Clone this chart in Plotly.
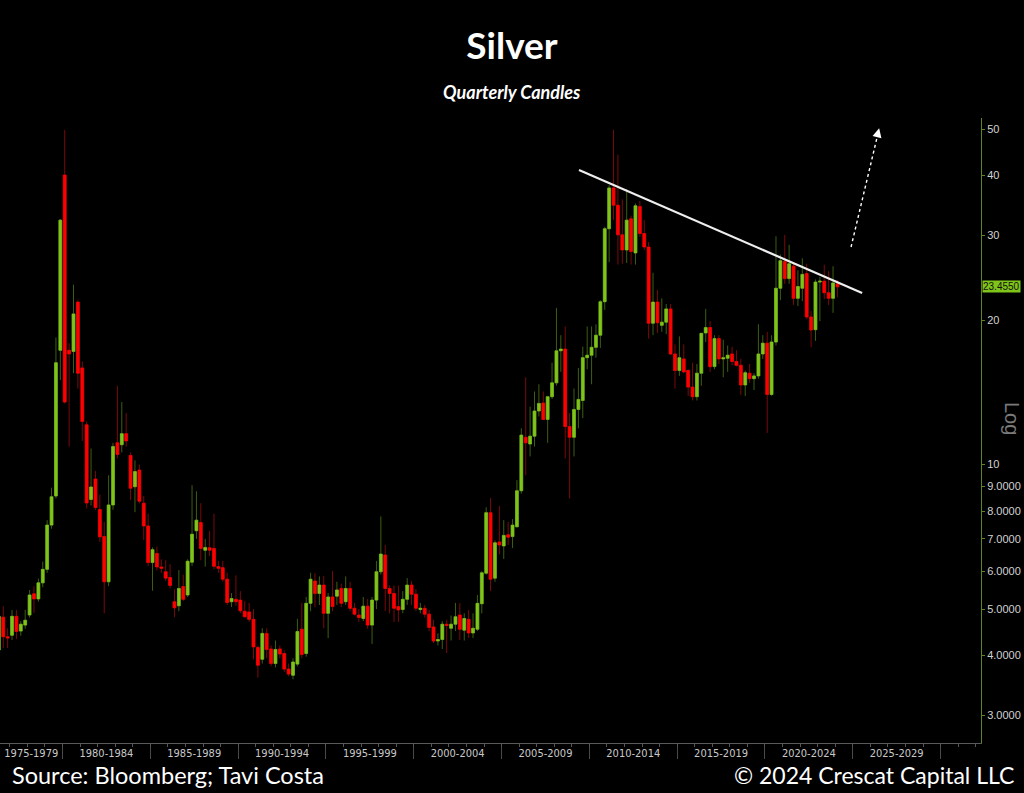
import math
import plotly.graph_objects as go

# ---------------- data (quarterly silver candles, USD/oz) ----------------
first_quarter = (1976, 2)

open_ = [
    4.11, 4.81, 4.38,                 # 1976 Q2-Q4
    4.41, 4.83, 4.50, 4.63,           # 1977
    4.86, 5.38, 5.25, 5.67,           # 1978
    6.05, 7.48, 8.60, 17.3,           # 1979
    40.1, 17.3, 17.2, 21.8,           # 1980
    15.9, 12.1, 8.46, 9.33,           # 1981
    8.06, 7.08, 5.70, 8.24,           # 1982
    11.1, 11.0, 11.6, 10.45,          # 1983
    8.99, 9.74, 8.31, 7.45,           # 1984
    6.25, 6.53, 6.12, 5.98,           # 1985
    5.82, 5.18, 5.08, 5.57,           # 1986
    5.35, 6.26, 7.28, 7.57,           # 1987
    6.63, 6.71, 6.69, 6.13,           # 1988
    6.10, 5.77, 5.18, 5.24,           # 1989
    5.22, 4.95, 4.93, 4.76,           # 1990
    4.16, 3.93, 4.45, 4.13,           # 1991
    3.85, 4.13, 4.04, 3.75,           # 1992
    3.64, 3.84, 4.54, 4.04,           # 1993
    5.14, 5.72, 5.39, 5.61,           # 1994
    4.90, 5.30, 5.32, 5.52,           # 1995
    5.18, 5.52, 5.02, 4.86,           # 1996
    4.78, 5.07, 4.63, 5.22,           # 1997
    5.98, 6.48, 5.52, 5.39,           # 1998
    5.06, 4.99, 5.24, 5.61,           # 1999
    5.37, 4.99, 5.02, 4.88,           # 2000
    4.59, 4.29, 4.32, 4.65,           # 2001
    4.56, 4.65, 4.86, 4.52,           # 2002
    4.76, 4.46, 4.54, 5.13,           # 2003
    5.94, 7.94, 5.80, 6.90,           # 2004
    6.77, 7.14, 7.08, 7.42,           # 2005
    8.82, 11.4, 11.04, 11.46,         # 2006
    12.93, 13.43, 12.42, 13.85,       # 2007
    14.8, 17.26, 17.4, 12.0,          # 2008
    11.4, 13.03, 13.6, 16.7,          # 2009
    16.9, 17.55, 18.6, 21.84,         # 2010
    31.0, 37.7, 34.7, 30.1,           # 2011
    28.0, 32.5, 27.6, 34.5,           # 2012
    30.3, 28.4, 19.7, 21.8,           # 2013
    19.5, 19.8, 21.1, 17.0,           # 2014
    15.7, 16.6, 15.7, 14.5,           # 2015
    13.85, 15.5, 18.8, 19.3,          # 2016
    16.0, 18.3, 16.6, 16.65,          # 2017
    17.0, 16.4, 16.1, 14.65,          # 2018
    15.5, 15.1, 15.3, 17.0,           # 2019
    17.9, 14.0, 18.0, 23.3,           # 2020
    26.5, 24.4, 25.9, 22.2,           # 2021
    23.3, 25.0, 20.3, 19.1,           # 2022
    24.0, 24.1, 22.8, 22.2,           # 2023
    23.8,                             # 2024 Q1
]

high = [
    4.95, 5.07, 4.56,
    4.98, 4.98, 4.72, 4.98,
    5.48, 5.58, 5.79, 6.28,
    7.66, 8.95, 18.4, 32.5,
    49.8, 17.9, 23.7, 22.0,
    16.4, 12.3, 10.8, 9.70,
    8.66, 7.60, 9.50, 11.1,
    14.6, 13.5, 12.8, 10.6,
    10.2, 10.0, 8.60, 7.90,
    6.72, 6.75, 6.35, 6.32,
    6.20, 5.50, 6.03, 5.90,
    6.35, 9.06, 8.80, 8.31,
    7.00, 7.27, 7.90, 6.30,
    6.30, 5.95, 5.40, 5.88,
    5.45, 5.20, 5.15, 5.00,
    4.20, 4.56, 4.56, 4.20,
    4.30, 4.20, 4.10, 3.85,
    3.95, 4.77, 5.15, 5.30,
    5.95, 5.94, 5.85, 5.86,
    5.40, 6.00, 5.70, 5.65,
    5.85, 5.70, 5.15, 5.00,
    5.30, 5.25, 5.30, 6.30,
    7.80, 6.80, 5.60, 5.60,
    5.60, 5.45, 5.80, 5.72,
    5.50, 5.15, 5.10, 4.98,
    4.75, 4.45, 4.72, 4.75,
    4.85, 5.15, 5.15, 4.90,
    4.98, 4.90, 5.35, 6.00,
    8.15, 8.52, 6.95, 8.20,
    7.66, 7.60, 7.70, 9.28,
    11.9, 15.2, 13.2, 14.2,
    14.7, 14.2, 13.9, 16.3,
    21.2, 18.6, 19.4, 12.8,
    14.4, 15.9, 17.6, 19.4,
    19.4, 19.6, 22.0, 31.3,
    38.2, 49.8, 44.2, 35.7,
    37.5, 33.0, 35.0, 35.4,
    32.3, 29.1, 25.1, 23.1,
    22.2, 21.6, 21.6, 17.8,
    18.5, 17.8, 15.8, 16.3,
    16.2, 18.8, 21.1, 19.9,
    18.6, 18.6, 18.2, 17.7,
    17.6, 17.3, 16.6, 15.7,
    16.2, 15.5, 19.6, 18.6,
    18.9, 18.6, 29.9, 27.4,
    30.1, 28.7, 26.4, 25.4,
    26.9, 26.2, 20.9, 24.3,
    24.6, 26.1, 25.3, 25.9,
    24.2,
]

low = [
    4.05, 4.15, 4.15,
    4.31, 4.33, 4.40, 4.55,
    4.80, 4.91, 5.18, 5.55,
    5.95, 7.35, 8.50, 15.0,
    13.4, 10.9, 15.5, 14.4,
    11.2, 8.10, 8.22, 8.04,
    6.90, 4.90, 5.58, 8.05,
    10.3, 10.6, 10.9, 8.44,
    7.96, 8.30, 6.96, 6.15,
    5.46, 6.02, 5.95, 5.72,
    5.52, 4.81, 4.95, 5.20,
    5.30, 6.15, 7.00, 6.32,
    6.13, 6.45, 6.05, 5.95,
    5.70, 5.10, 5.05, 5.08,
    4.90, 4.80, 4.70, 3.93,
    3.60, 3.85, 3.95, 3.80,
    3.78, 3.95, 3.70, 3.62,
    3.57, 3.80, 3.95, 3.98,
    4.95, 5.05, 5.10, 4.56,
    4.35, 4.95, 5.10, 5.05,
    5.10, 4.95, 4.85, 4.70,
    4.72, 4.55, 4.23, 5.00,
    5.90, 4.95, 4.90, 4.70,
    4.70, 4.90, 5.10, 5.10,
    4.95, 4.90, 4.80, 4.50,
    4.25, 4.20, 4.13, 4.05,
    4.30, 4.50, 4.31, 4.30,
    4.35, 4.35, 4.50, 4.90,
    5.90, 5.45, 5.70, 6.50,
    6.36, 6.80, 6.70, 7.40,
    8.70, 9.50, 10.4, 10.9,
    12.6, 12.5, 11.1, 13.7,
    14.6, 15.6, 10.3, 8.50,
    10.4, 11.9, 12.5, 15.8,
    14.7, 16.7, 17.5, 21.0,
    26.4, 32.3, 26.1, 26.2,
    26.3, 26.1, 26.1, 29.8,
    28.0, 18.3, 18.6, 18.8,
    18.9, 18.7, 16.9, 14.4,
    15.3, 15.5, 13.9, 13.6,
    13.6, 14.6, 18.0, 15.6,
    15.8, 16.2, 15.2, 15.6,
    16.1, 16.0, 13.97, 13.9,
    14.8, 14.3, 15.1, 16.6,
    11.64, 13.9, 17.7, 22.0,
    23.8, 23.8, 21.5, 21.4,
    21.9, 20.1, 17.56, 18.1,
    19.9, 22.1, 21.5, 20.7,
    22.3,
]

close = [
    4.83, 4.38, 4.35,
    4.83, 4.49, 4.65, 4.74,
    5.35, 5.25, 5.67, 6.05,
    7.48, 8.57, 16.3, 32.3,
    13.5, 17.0, 20.6, 15.5,
    12.3, 8.32, 8.98, 8.14,
    7.07, 5.70, 8.24, 10.9,
    10.5, 11.6, 11.2, 8.93,
    9.67, 8.39, 7.45, 6.25,
    6.65, 6.12, 6.08, 5.80,
    5.60, 5.03, 5.52, 5.24,
    6.29, 7.16, 7.66, 6.69,
    6.72, 6.63, 6.14, 6.08,
    5.77, 5.16, 5.26, 5.18,
    4.96, 4.82, 4.76, 4.17,
    3.82, 4.45, 4.12, 3.85,
    4.12, 4.03, 3.75, 3.66,
    3.88, 4.49, 4.02, 5.14,
    5.77, 5.39, 5.61, 4.90,
    5.30, 5.06, 5.48, 5.14,
    5.52, 5.02, 4.88, 4.80,
    5.07, 4.63, 5.22, 5.98,
    6.51, 5.52, 5.39, 5.02,
    4.98, 5.24, 5.61, 5.37,
    5.02, 5.02, 4.88, 4.58,
    4.29, 4.32, 4.65, 4.62,
    4.65, 4.82, 4.54, 4.78,
    4.46, 4.56, 5.14, 5.95,
    7.94, 5.77, 6.87, 6.80,
    7.12, 7.06, 7.48, 8.82,
    11.52, 11.1, 11.46, 12.93,
    13.41, 12.42, 13.85, 14.8,
    17.26, 17.4, 12.0, 11.4,
    13.03, 13.67, 16.7, 16.9,
    17.55, 18.6, 21.84, 31.0,
    37.7, 34.7, 30.1, 28.0,
    32.3, 27.8, 34.6, 30.3,
    28.4, 19.7, 21.8, 19.75,
    19.8, 21.1, 17.0, 15.7,
    16.7, 15.6, 14.5, 13.85,
    15.5, 18.77, 19.3, 15.99,
    18.3, 16.6, 16.7, 16.9,
    16.4, 16.1, 14.65, 15.54,
    15.1, 15.3, 17.0, 17.9,
    14.0, 18.0, 23.3, 26.6,
    24.4, 26.2, 22.2, 23.5,
    24.9, 20.3, 19.07, 24.0,
    24.1, 22.8, 22.2, 23.9,
    23.455,
]

last_price = 23.455

x_tick_labels = ["1975-1979", "1980-1984", "1985-1989", "1990-1994", "1995-1999",
                 "2000-2004", "2005-2009", "2010-2014", "2015-2019", "2020-2024",
                 "2025-2029"]
y_tick_values = [3, 4, 5, 6, 7, 8, 9, 10, 20, 30, 40, 50]
y_tick_labels = ["3.0000", "4.0000", "5.0000", "6.0000", "7.0000", "8.0000",
                 "9.0000", "10", "20", "30", "40", "50"]

# resistance trendline and projected arrow (annotation endpoints)
trend_x = [2009.41, 2025.53]
trend_y = [41.1, 22.77]
arrow_start = (2024.9, 28.4)
arrow_tip = (2026.5, 50.2)

# ---------------- build ----------------
n = len(open_)
quarters = []
yr, q = first_quarter
for _ in range(n):
    quarters.append((yr, q))
    q += 1
    if q > 4:
        q = 1
        yr += 1
xs = [y + (qq - 0.5) / 4.0 for (y, qq) in quarters]

body_hi = [max(o, c) for o, c in zip(open_, close)]
body_lo = [min(o, c) for o, c in zip(open_, close)]
wick_hi = [max(h, o, c) for h, o, c in zip(high, open_, close)]
wick_lo = [min(l, o, c) for l, o, c in zip(low, open_, close)]

GREEN = "#7fc41a"
RED = "#ff0000"
GREEN_WICK = "#3d5e12"
RED_WICK = "#7a0a0a"

X_MIN, X_MAX = 1976.44, 2032.3
Y_MIN, Y_MAX = 0.420, 1.722

fig = go.Figure()

# wicks
fig.add_trace(go.Candlestick(
    x=xs, open=open_, high=wick_hi, low=wick_lo, close=close,
    increasing=dict(line=dict(color=GREEN_WICK, width=1), fillcolor=GREEN_WICK),
    decreasing=dict(line=dict(color=RED_WICK, width=1), fillcolor=RED_WICK),
    whiskerwidth=0, hoverinfo="skip", showlegend=False))
# bodies
fig.add_trace(go.Candlestick(
    x=xs, open=open_, high=body_hi, low=body_lo, close=close,
    increasing=dict(line=dict(color=GREEN, width=0.5), fillcolor=GREEN),
    decreasing=dict(line=dict(color=RED, width=0.5), fillcolor=RED),
    whiskerwidth=0, hoverinfo="skip", showlegend=False))

# trendline
fig.add_trace(go.Scatter(x=trend_x, y=trend_y, mode="lines",
                         line=dict(color="#eeeeee", width=2.2),
                         hoverinfo="skip", showlegend=False))
# dotted projection
fig.add_trace(go.Scatter(x=[arrow_start[0], arrow_tip[0] - 0.08],
                         y=[arrow_start[1], arrow_tip[1] * 0.97], mode="lines",
                         line=dict(color="#ffffff", width=1.4, dash="dot"),
                         hoverinfo="skip", showlegend=False))
# invisible trace for yearly minor-tick axis
fig.add_trace(go.Scatter(x=[X_MIN, X_MAX], y=[10, 10], xaxis="x2", mode="lines",
                         line=dict(width=0), opacity=0, hoverinfo="skip",
                         showlegend=False))

bounds = list(range(1980, 2031, 5))
tick_pos = [(X_MIN + 1980) / 2.0] + [b + 2.5 for b in bounds[:-1]]

fig.update_layout(
    width=1024, height=793,
    paper_bgcolor="black", plot_bgcolor="black",
    margin=dict(l=0, r=43, t=118, b=50),
    boxgap=0.08,
    showlegend=False,
    title=dict(text="<b>Silver</b>", x=0.5, xref="container", xanchor="center",
               y=1 - 46 / 793, yref="container", yanchor="middle",
               font=dict(family="Lato, Open Sans, sans-serif", size=37, color="white")),
    xaxis=dict(range=[X_MIN, X_MAX], rangeslider=dict(visible=False),
               showgrid=False, zeroline=False, showline=True, linecolor="#5a5a5a",
               linewidth=1, tickmode="array", tickvals=tick_pos, ticktext=x_tick_labels,
               ticks="", tickfont=dict(family="Liberation Sans Narrow, DejaVu Sans Condensed, sans-serif",
                                        size=11, color="#c8c8c8"),
               minor=dict(tickmode="array", tickvals=bounds, ticks="outside",
                          ticklen=15, tickcolor="#4a4a4a", tickwidth=1),
               fixedrange=True),
    xaxis2=dict(range=[X_MIN, X_MAX], overlaying="x", anchor="y", side="bottom",
                showgrid=False, zeroline=False, showline=False,
                tickmode="linear", tick0=1976, dtick=1, ticks="outside", ticklen=3,
                tickcolor="#555555", showticklabels=False),
    yaxis=dict(type="log", range=[Y_MIN, Y_MAX], side="right", showgrid=False,
               zeroline=False, showline=True, linecolor="#5f8420", linewidth=1,
               ticks="outside", ticklen=3, tickcolor="#5f8420",
               tickmode="array", tickvals=y_tick_values, ticktext=y_tick_labels,
               tickfont=dict(family="Liberation Sans, Arial, sans-serif", size=11,
                             color="#d2d2d2")),
)

annotations = [
    dict(text="<b><i>Quarterly Candles</i></b>", xref="paper", yref="paper",
         x=512 / 981, y=(743 - 92) / 625, xanchor="center", yanchor="middle",
         showarrow=False, font=dict(family="Lato, sans-serif", size=18, color="white")),
    dict(text="Source: Bloomberg; Tavi Costa", xref="paper", yref="paper",
         x=10 / 981, y=(743 - 775) / 625, xanchor="left", yanchor="middle",
         showarrow=False, font=dict(family="Lato, sans-serif", size=23.5, color="white")),
    dict(text="\u00a9 2024 Crescat Capital LLC", xref="paper", yref="paper",
         x=1016 / 981, y=(743 - 775) / 625, xanchor="right", yanchor="middle",
         showarrow=False, font=dict(family="Lato, sans-serif", size=23, color="white")),
    dict(text="Log", xref="paper", yref="paper", x=1012 / 981, y=(743 - 418) / 625,
         xanchor="center", yanchor="middle", textangle=90, showarrow=False,
         font=dict(family="Liberation Sans, sans-serif", size=20, color="#7a7a7a")),
    dict(text=f"{last_price:.4f}", xref="paper", yref="y",
         x=1 + 1 / 981, y=math.log10(last_price), xanchor="left", yanchor="middle",
         showarrow=False, bgcolor="#7fc41a", borderpad=0,
         font=dict(family="Liberation Sans, Arial, sans-serif",
                   size=10, color="#111111")),
    dict(text="", xref="x", yref="y", x=arrow_tip[0], y=math.log10(arrow_tip[1]),
         ax=-2.4, ay=10, axref="pixel", ayref="pixel", showarrow=True,
         arrowhead=2, arrowsize=1.3, arrowwidth=1.4, arrowcolor="#ffffff"),
]
fig.update_layout(annotations=annotations)

fig.write_html(
    "out.html",
    config={"displayModeBar": False},
    post_script="document.body.style.margin='0';document.body.style.overflow='hidden';"
                "document.documentElement.style.overflow='hidden';",
)
